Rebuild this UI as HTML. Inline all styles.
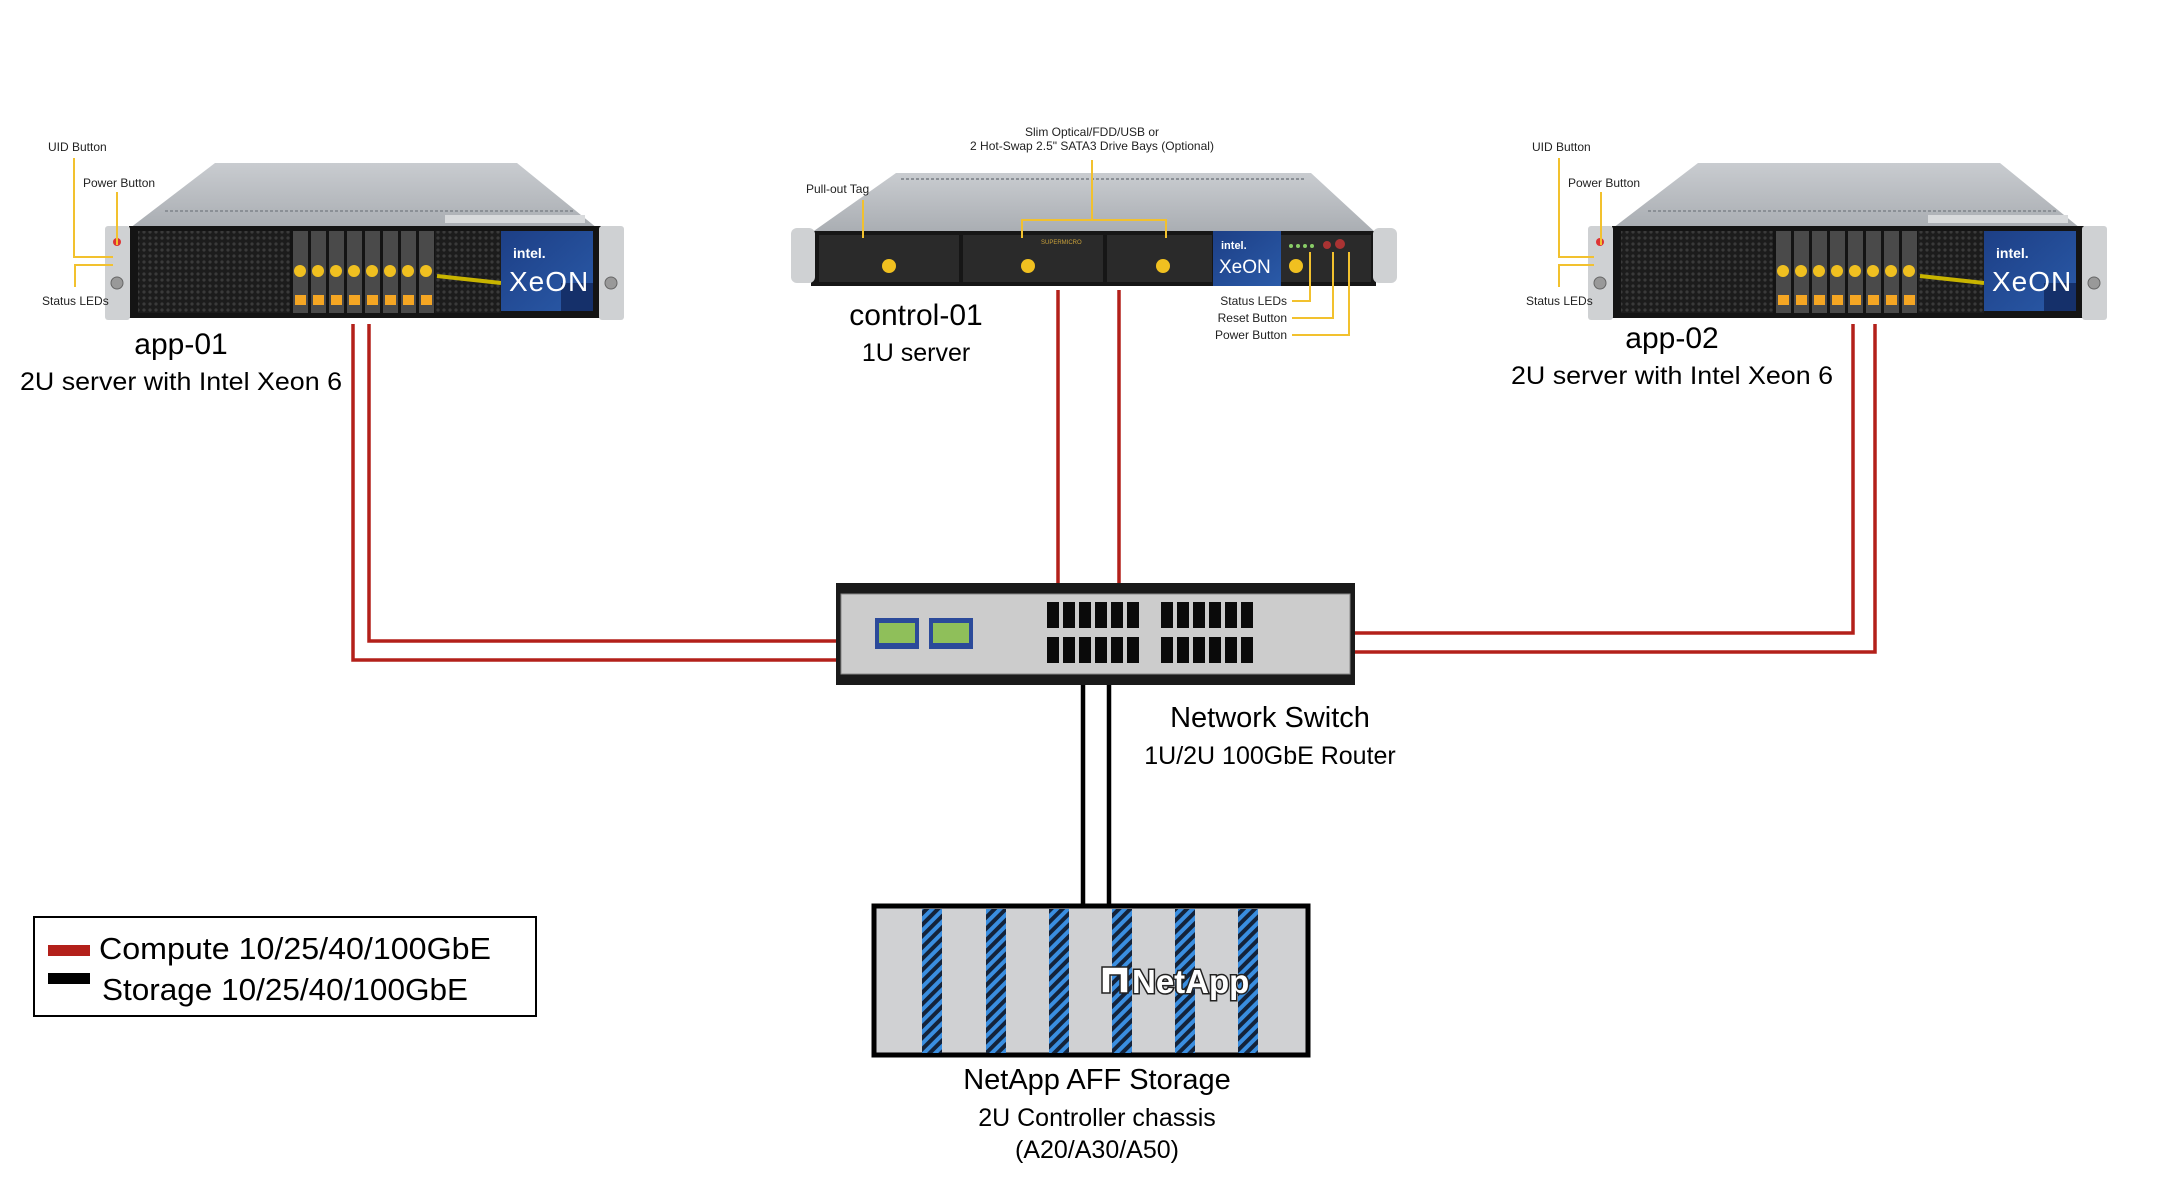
<!DOCTYPE html>
<html><head><meta charset="utf-8"><style>
html,body{margin:0;padding:0;background:#fff;}
svg{display:block;font-family:"Liberation Sans",sans-serif;}
</style></head><body>
<svg width="2178" height="1180" viewBox="0 0 2178 1180" xmlns="http://www.w3.org/2000/svg">
<defs>
<linearGradient id="topg" x1="0" y1="0" x2="0" y2="1"><stop offset="0" stop-color="#c9ccd0"/><stop offset="1" stop-color="#a9adb2"/></linearGradient>
<linearGradient id="xg" x1="0" y1="0" x2="1" y2="1"><stop offset="0" stop-color="#1d3f86"/><stop offset="1" stop-color="#2a5aa8"/></linearGradient>
<pattern id="mesh" width="6" height="6" patternUnits="userSpaceOnUse"><rect width="6" height="6" fill="#1c1c1c"/><circle cx="3" cy="3" r="1.6" fill="#3a3a3a"/></pattern>
<pattern id="hatch" width="8" height="8" patternUnits="userSpaceOnUse" patternTransform="rotate(45)"><rect width="8" height="8" fill="#3a8ee0"/><rect width="4" height="8" fill="#14233a"/></pattern>
<g id="srv2u">
  <polygon points="110,0 412,0 492,65 25,65" fill="url(#topg)"/>
  <line x1="60" y1="48" x2="470" y2="48" stroke="#8b9096" stroke-width="2" stroke-dasharray="3,2"/>
  <rect x="340" y="52" width="140" height="8" fill="#d8dadc"/>
  <rect x="24" y="63" width="472" height="92" fill="#141414"/>
  <rect x="33" y="68" width="152" height="82" fill="url(#mesh)"/>
  <rect x="330" y="68" width="66" height="82" fill="url(#mesh)"/>
  <path d="M332 113 L396 120" stroke="#c8b400" stroke-width="4"/>
  <rect x="396" y="68" width="92" height="80" fill="url(#xg)"/>
  <rect x="456" y="120" width="32" height="28" fill="#15306a"/>
  <text x="408" y="95" fill="#fff" font-size="14" font-weight="bold">intel.</text>
  <text x="404" y="128" fill="#fff" font-size="28" letter-spacing="1">XeON</text>
  <rect x="0" y="63" width="25" height="94" rx="3" fill="#cfd1d3"/>
  <circle cx="12" cy="79" r="4" fill="#d33"/>
  <circle cx="12" cy="120" r="6" fill="#999" stroke="#666"/>
  <rect x="494" y="63" width="25" height="94" rx="3" fill="#cfd1d3"/>
  <circle cx="506" cy="120" r="6" fill="#999" stroke="#666"/>
  <g fill="#4a4a4a">
   <rect x="188" y="68" width="15" height="82"/><rect x="206" y="68" width="15" height="82"/><rect x="224" y="68" width="15" height="82"/><rect x="242" y="68" width="15" height="82"/><rect x="260" y="68" width="15" height="82"/><rect x="278" y="68" width="15" height="82"/><rect x="296" y="68" width="15" height="82"/><rect x="314" y="68" width="15" height="82"/>
  </g>
  <g fill="#f0c020">
   <circle cx="195" cy="108" r="6"/><circle cx="213" cy="108" r="6"/><circle cx="231" cy="108" r="6"/><circle cx="249" cy="108" r="6"/><circle cx="267" cy="108" r="6"/><circle cx="285" cy="108" r="6"/><circle cx="303" cy="108" r="6"/><circle cx="321" cy="108" r="6"/>
  </g>
  <g fill="#f5a623">
   <rect x="190" y="132" width="11" height="10"/><rect x="208" y="132" width="11" height="10"/><rect x="226" y="132" width="11" height="10"/><rect x="244" y="132" width="11" height="10"/><rect x="262" y="132" width="11" height="10"/><rect x="280" y="132" width="11" height="10"/><rect x="298" y="132" width="11" height="10"/><rect x="316" y="132" width="11" height="10"/>
  </g>
</g>
</defs>

<!-- app-01 -->
<use href="#srv2u" x="105" y="163"/>
<g stroke="#f2c12e" stroke-width="2" fill="none">
 <polyline points="74,158 74,257 113,257"/>
 <polyline points="117,192 117,245"/>
 <polyline points="75,287 75,265 113,265"/>
</g>
<g font-size="12" fill="#222">
 <text x="48" y="151">UID Button</text>
 <text x="83" y="187">Power Button</text>
 <text x="42" y="305">Status LEDs</text>
</g>
<text x="181" y="354" font-size="30" text-anchor="middle">app-01</text>
<text x="181" y="390" font-size="25" text-anchor="middle" textLength="322" lengthAdjust="spacingAndGlyphs">2U server with Intel Xeon 6</text>

<!-- app-02 -->
<use href="#srv2u" x="1588" y="163"/>
<g stroke="#f2c12e" stroke-width="2" fill="none">
 <polyline points="1559,158 1559,257 1594,257"/>
 <polyline points="1601,192 1601,245"/>
 <polyline points="1559,287 1559,265 1594,265"/>
</g>
<g font-size="12" fill="#222">
 <text x="1532" y="151">UID Button</text>
 <text x="1568" y="187">Power Button</text>
 <text x="1526" y="305">Status LEDs</text>
</g>
<text x="1672" y="348" font-size="30" text-anchor="middle">app-02</text>
<text x="1672" y="384" font-size="25" text-anchor="middle" textLength="322" lengthAdjust="spacingAndGlyphs">2U server with Intel Xeon 6</text>

<!-- control-01 -->
<g transform="translate(791,173)">
  <polygon points="105,0 520,0 585,60 20,60" fill="url(#topg)"/>
  <line x1="110" y1="6" x2="515" y2="6" stroke="#8b9096" stroke-width="2" stroke-dasharray="3,2"/>
  <rect x="20" y="58" width="565" height="55" fill="#161616"/>
  <rect x="28" y="62" width="140" height="47" fill="#2a2a2a"/>
  <rect x="172" y="62" width="140" height="47" fill="#2a2a2a"/>
  <rect x="316" y="62" width="105" height="47" fill="#2a2a2a"/>
  <rect x="422" y="58" width="68" height="55" fill="url(#xg)"/>
  <text x="430" y="76" fill="#fff" font-size="11" font-weight="bold">intel.</text>
  <text x="428" y="100" fill="#fff" font-size="19">XeON</text>
  <rect x="490" y="62" width="90" height="47" fill="#2a2a2a"/>
  <g fill="#8c6"><circle cx="500" cy="73" r="2"/><circle cx="507" cy="73" r="2"/><circle cx="514" cy="73" r="2"/><circle cx="521" cy="73" r="2"/></g>
  <circle cx="536" cy="72" r="4" fill="#a33"/><circle cx="549" cy="71" r="5" fill="#a33"/>
  <text x="250" y="71" fill="#c9a13a" font-size="6">SUPERMICRO</text>
  <g fill="#f0c020"><circle cx="98" cy="93" r="7"/><circle cx="237" cy="93" r="7"/><circle cx="372" cy="93" r="7"/><circle cx="505" cy="93" r="7"/></g>
  <rect x="0" y="55" width="24" height="55" rx="6" fill="#cfd1d3"/>
  <rect x="582" y="55" width="24" height="55" rx="6" fill="#cfd1d3"/>
</g>
<g stroke="#f2c12e" stroke-width="2" fill="none">
 <polyline points="1092,160 1092,220"/>
 <polyline points="1022,238 1022,220 1166,220 1166,238"/>
 <polyline points="863,200 863,238"/>
 <polyline points="1292,301 1310,301 1310,252"/>
 <polyline points="1292,318 1333,318 1333,252"/>
 <polyline points="1292,335 1349,335 1349,252"/>
</g>
<g font-size="12" fill="#222">
 <text x="1092" y="136" text-anchor="middle">Slim Optical/FDD/USB or</text>
 <text x="1092" y="150" text-anchor="middle">2 Hot-Swap 2.5" SATA3 Drive Bays (Optional)</text>
 <text x="806" y="193">Pull-out Tag</text>
 <text x="1287" y="305" text-anchor="end">Status LEDs</text>
 <text x="1287" y="322" text-anchor="end">Reset Button</text>
 <text x="1287" y="339" text-anchor="end">Power Button</text>
</g>
<text x="916" y="325" font-size="30" text-anchor="middle">control-01</text>
<text x="916" y="361" font-size="25" text-anchor="middle">1U server</text>

<!-- compute links -->
<g stroke="#b3201a" stroke-width="3.5" fill="none">
 <polyline points="353,324 353,660 840,660"/>
 <polyline points="369,324 369,641 840,641"/>
 <polyline points="1058,290 1058,586"/>
 <polyline points="1119,290 1119,586"/>
 <polyline points="1853,324 1853,633 1352,633"/>
 <polyline points="1875,324 1875,652 1352,652"/>
</g>
<!-- storage links -->
<g stroke="#000" stroke-width="4.5">
 <line x1="1083" y1="684" x2="1083" y2="906"/>
 <line x1="1109" y1="684" x2="1109" y2="906"/>
</g>

<!-- switch -->
<rect x="836" y="583" width="519" height="102" fill="#1a1a1a"/>
<rect x="841" y="594" width="509" height="80" fill="#cccccc" stroke="#888" stroke-width="1"/>
<rect x="875" y="618" width="44" height="31" fill="#2b4a9a"/><rect x="879" y="623" width="36" height="20" fill="#8fbf5a"/>
<rect x="929" y="618" width="44" height="31" fill="#2b4a9a"/><rect x="933" y="623" width="36" height="20" fill="#8fbf5a"/>
<g fill="#0a0a0a">
 <rect x="1047" y="602" width="12" height="26"/><rect x="1063" y="602" width="12" height="26"/><rect x="1079" y="602" width="12" height="26"/><rect x="1095" y="602" width="12" height="26"/><rect x="1111" y="602" width="12" height="26"/><rect x="1127" y="602" width="12" height="26"/>
 <rect x="1161" y="602" width="12" height="26"/><rect x="1177" y="602" width="12" height="26"/><rect x="1193" y="602" width="12" height="26"/><rect x="1209" y="602" width="12" height="26"/><rect x="1225" y="602" width="12" height="26"/><rect x="1241" y="602" width="12" height="26"/>
 <rect x="1047" y="637" width="12" height="26"/><rect x="1063" y="637" width="12" height="26"/><rect x="1079" y="637" width="12" height="26"/><rect x="1095" y="637" width="12" height="26"/><rect x="1111" y="637" width="12" height="26"/><rect x="1127" y="637" width="12" height="26"/>
 <rect x="1161" y="637" width="12" height="26"/><rect x="1177" y="637" width="12" height="26"/><rect x="1193" y="637" width="12" height="26"/><rect x="1209" y="637" width="12" height="26"/><rect x="1225" y="637" width="12" height="26"/><rect x="1241" y="637" width="12" height="26"/>
</g>
<text x="1270" y="727" font-size="29" text-anchor="middle">Network Switch</text>
<text x="1270" y="764" font-size="25" text-anchor="middle">1U/2U 100GbE Router</text>

<!-- storage -->
<rect x="874" y="906" width="434" height="149" fill="#d0d1d3" stroke="#000" stroke-width="5"/>
<g fill="url(#hatch)">
 <rect x="922" y="909" width="20" height="144"/><rect x="986" y="909" width="20" height="144"/><rect x="1049" y="909" width="20" height="144"/><rect x="1112" y="909" width="20" height="144"/><rect x="1175" y="909" width="20" height="144"/><rect x="1238" y="909" width="20" height="144"/>
</g>
<path d="M1102 967 h26 v26 h-8 v-18 h-10 v18 h-8 z" fill="#fff" stroke="#222" stroke-width="1.5"/>
<text x="1132" y="993" font-size="33" font-weight="bold" fill="#fff" stroke="#222" stroke-width="3" paint-order="stroke">NetApp</text>
<text x="1097" y="1089" font-size="29" text-anchor="middle">NetApp AFF Storage</text>
<text x="1097" y="1126" font-size="25" text-anchor="middle">2U Controller chassis</text>
<text x="1097" y="1158" font-size="25" text-anchor="middle">(A20/A30/A50)</text>

<!-- legend -->
<rect x="34" y="917" width="502" height="99" fill="#fff" stroke="#000" stroke-width="2"/>
<rect x="48" y="945" width="42" height="11" fill="#b3201a"/>
<rect x="48" y="973" width="42" height="11" fill="#000"/>
<text x="99" y="959" font-size="31" textLength="392" lengthAdjust="spacingAndGlyphs">Compute 10/25/40/100GbE</text>
<text x="102" y="1000" font-size="31" textLength="366" lengthAdjust="spacingAndGlyphs">Storage 10/25/40/100GbE</text>
</svg>
</body></html>
